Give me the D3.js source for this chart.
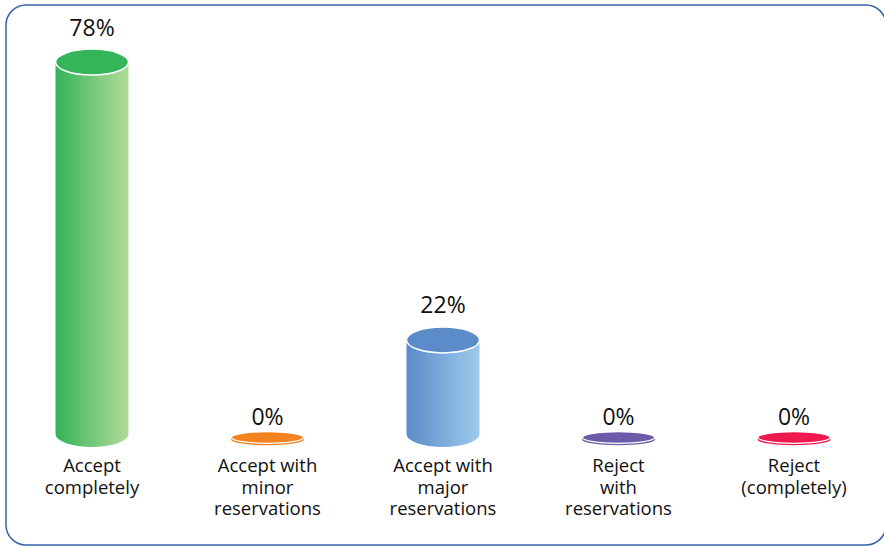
<!DOCTYPE html>
<html><head><meta charset="utf-8">
<script src="https://cdn.jsdelivr.net/npm/d3@7"></script>
<style>html,body{margin:0;padding:0;background:#fff;}svg{display:block;}</style>
</head><body>
<svg id="chart" width="884" height="546"></svg>
<script>
const categories = [["Accept","completely"],["Accept with","minor","reservations"],["Accept with","major","reservations"],["Reject","with","reservations"],["Reject","(completely)"]];
const values = [78, 0, 22, 0, 0];
const valueLabels = ["78%","0%","22%","0%","0%"];
const colors = [
  {top:"#35b559", left:"#33b458", right:"#b3db98"},
  {top:"#f58220", left:"#f58220", right:"#f58220"},
  {top:"#5b8bc8", left:"#5b8bc8", right:"#9dcbec"},
  {top:"#6c5ba9", left:"#6c5ba9", right:"#6c5ba9"},
  {top:"#ee1a4f", left:"#ee1a4f", right:"#ee1a4f"}
];

const W = 884, H = 546;
const svg = d3.select("#chart");
const font = "'Open Sans', 'Noto Sans', sans-serif";

svg.append("rect").attr("x",6).attr("y",5).attr("width",880).attr("height",540)
  .attr("rx",20).attr("fill","none").attr("stroke","#3563aa").attr("stroke-width",1.5);

const x = d3.scalePoint().domain(d3.range(values.length)).range([92, 794]);
const y = d3.scaleLinear().domain([0,100]).range([449, -47]);
const baseY = 434;
const rx = 36.5, ry = 13;

const defs = svg.append("defs");
colors.forEach((c,i)=>{
  const g = defs.append("linearGradient").attr("id","g"+i).attr("x1","0").attr("x2","1").attr("y1","0").attr("y2","0");
  g.append("stop").attr("offset","0%").attr("stop-color",c.left);
  g.append("stop").attr("offset","100%").attr("stop-color",c.right);
});

values.forEach((v,i)=>{
  const cx = x(i);
  const g = svg.append("g");
  if (v > 0) {
    const ty = y(v);
    g.append("path")
      .attr("d", `M${cx-rx},${ty} L${cx-rx},${baseY} A${rx},${ry} 0 0 0 ${cx+rx},${baseY} L${cx+rx},${ty} Z`)
      .attr("fill", `url(#g${i})`);
    g.append("ellipse").attr("cx",cx).attr("cy",ty).attr("rx",rx).attr("ry",ry)
      .attr("fill",colors[i].top).attr("stroke","#fff").attr("stroke-width",1.5);
    g.append("text").attr("x",cx).attr("y",ty-26.5).attr("text-anchor","middle")
      .attr("font-family",font).attr("font-size",23).attr("fill","#111").text(valueLabels[i]);
  } else {
    const dy = 437.5, dry = 5.8;
    g.append("ellipse").attr("cx",cx).attr("cy",dy+2).attr("rx",rx).attr("ry",dry)
      .attr("fill",colors[i].top);
    g.append("ellipse").attr("cx",cx).attr("cy",dy).attr("rx",rx-0.5).attr("ry",dry)
      .attr("fill",colors[i].top).attr("stroke","#fff").attr("stroke-width",1.2);
    g.append("text").attr("x",cx).attr("y",y(v)-24).attr("text-anchor","middle")
      .attr("font-family",font).attr("font-size",23).attr("fill","#111").text(valueLabels[i]);
  }
  const t = svg.append("text").attr("x",cx).attr("y",472).attr("text-anchor","middle")
    .attr("font-family",font).attr("font-size",18.5).attr("fill","#111");
  categories[i].forEach((line,k)=>{
    t.append("tspan").attr("x",cx).attr("y",472 + k*21.7).text(line);
  });
});
</script>
</body></html>
